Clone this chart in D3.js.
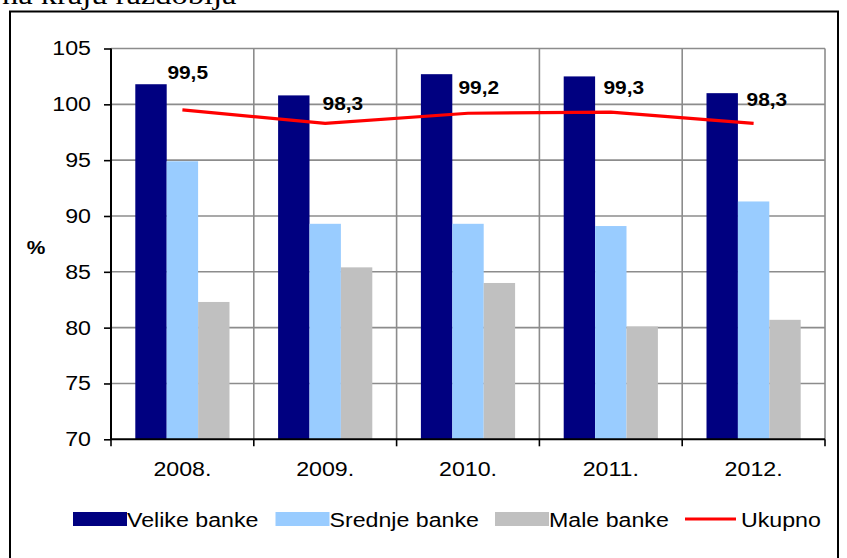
<!DOCTYPE html>
<html><head><meta charset="utf-8">
<script src="https://cdn.jsdelivr.net/npm/d3@7/dist/d3.min.js"></script>
<style>
html,body{margin:0;padding:0;background:#fff;}
svg{display:block;}
text{font-family:"Liberation Sans",Arial,sans-serif;}
</style></head>
<body>
<svg id="c" width="847" height="558"></svg>
<script>
// ---- data ----
const years = ["2008.", "2009.", "2010.", "2011.", "2012."];
const seriesNames = ["Velike banke", "Srednje banke", "Male banke"];
const velike = [101.8, 100.8, 102.7, 102.5, 101.0];
const srednje = [94.9, 89.3, 89.3, 89.1, 91.3];
const male = [82.3, 85.4, 84.0, 80.1, 80.7];
const ukupno = [99.5, 98.3, 99.2, 99.3, 98.3];
const ukupnoLabels = ["99,5", "98,3", "99,2", "99,3", "98,3"];
const lineName = "Ukupno";
const yTicks = [70, 75, 80, 85, 90, 95, 100, 105];
const yLabel = "%";
const titleFragment = "na kraju razdoblja";

// ---- layout ----
const colors = ["#000080", "#99CCFF", "#C0C0C0"];
const SX = 1.16; // horizontal text stretch of the original
const svg = d3.select("#c");
const plotL = 111, plotR = 825, plotT = 48.5, plotB = 439.3;

function stext(g, x, y, str, opts) {
  const t = g.append("g").attr("transform", `translate(${x},${y}) scale(${SX},1)`)
    .append("text").text(str)
    .attr("font-size", opts.size || 20)
    .attr("font-weight", opts.weight || "normal")
    .attr("text-anchor", opts.anchor || "start")
    .attr("fill", opts.fill || "#000");
  if (opts.family) t.style("font-family", opts.family);
  if (opts.baseline) t.attr("dominant-baseline", opts.baseline);
  return t;
}

// title fragment (cut off at top)
stext(svg, 2, 4, titleFragment, {size: 28, family: '"Liberation Serif","Times New Roman",serif'});

// outer frame
svg.append("rect").attr("x", 10).attr("y", 11.5).attr("width", 828).attr("height", 600)
  .attr("fill", "none").attr("stroke", "#000").attr("stroke-width", 2);

const x = d3.scaleBand().domain(years).range([plotL, plotR]).padding(0);
const xs = d3.scaleBand().domain(seriesNames).range([0, x.bandwidth()]).paddingInner(0).paddingOuter(0.774);
const y = d3.scaleLinear().domain([70, 105]).range([plotB, plotT]);

// gridlines
const grid = svg.append("g");
grid.selectAll("line.h").data(yTicks.filter(d => d > 70)).join("line")
  .attr("x1", plotL).attr("x2", plotR).attr("y1", d => y(d)).attr("y2", d => y(d))
  .attr("stroke", "#8c8c8c").attr("stroke-width", 1.6);
const bounds = years.map(d => x(d) + x.bandwidth()).concat([]);
grid.selectAll("line.v").data(bounds).join("line")
  .attr("x1", d => d).attr("x2", d => d).attr("y1", plotT).attr("y2", plotB)
  .attr("stroke", "#8c8c8c").attr("stroke-width", 1.6);

// bars
const seriesVals = [velike, srednje, male];
seriesVals.forEach((vals, si) => {
  svg.append("g").selectAll("rect").data(vals).join("rect")
    .attr("x", (d, i) => x(years[i]) + xs(seriesNames[si]))
    .attr("width", xs.bandwidth())
    .attr("y", d => y(d))
    .attr("height", d => y(70) - y(d))
    .attr("fill", colors[si]);
});

// axes
const yAxis = svg.append("g").attr("transform", `translate(${plotL},0)`)
  .call(d3.axisLeft(y).tickValues(yTicks).tickSize(7).tickFormat(""));
yAxis.select(".domain").attr("stroke", "#000").attr("stroke-width", 2).attr("d", `M0,${plotT}V${plotB}`);
yAxis.selectAll(".tick line").attr("stroke", "#000").attr("stroke-width", 1.6);
yTicks.forEach(t => stext(svg, plotL - 20, y(t), String(t), {size: 20, anchor: "end", baseline: "central"}));

const xAxis = svg.append("g").attr("transform", `translate(0,${plotB})`);
xAxis.append("line").attr("x1", plotL).attr("x2", plotR).attr("stroke", "#000").attr("stroke-width", 2);
xAxis.selectAll("line.t").data([plotL].concat(bounds)).join("line")
  .attr("x1", d => d).attr("x2", d => d).attr("y1", 0).attr("y2", 7)
  .attr("stroke", "#000").attr("stroke-width", 1.6);
years.forEach(yr => stext(svg, x(yr) + x.bandwidth() / 2, 476, yr, {size: 20, anchor: "middle"}));

// y label
stext(svg, 36, 254, yLabel, {size: 18, weight: "bold", anchor: "middle"});

// line
const cx = i => x(years[i]) + x.bandwidth() / 2;
svg.append("path").datum(ukupno)
  .attr("d", d3.line().x((d, i) => cx(i)).y(d => y(d)))
  .attr("fill", "none").attr("stroke", "#FF0000").attr("stroke-width", 3.2);

// data labels (manually placed in the original)
const labelNudge = [[-15, -31], [-2.6, -13.5], [-9.5, -19.5], [-7.3, -18.5], [-7, -17.5]];
ukupno.forEach((v, i) => {
  stext(svg, cx(i) + labelNudge[i][0], y(v) + labelNudge[i][1], ukupnoLabels[i], {size: 18, weight: "bold"});
});

// legend
const legY = 519;
const legItems = [
  {name: seriesNames[0], type: "rect", c: colors[0], x: 73},
  {name: seriesNames[1], type: "rect", c: colors[1], x: 275.5},
  {name: seriesNames[2], type: "rect", c: colors[2], x: 495},
  {name: lineName, type: "line", c: "#FF0000", x: 685}
];
legItems.forEach(it => {
  if (it.type === "rect") {
    svg.append("rect").attr("x", it.x).attr("y", legY - 7).attr("width", 54).attr("height", 14).attr("fill", it.c);
    stext(svg, it.x + 54, legY + 7.5, it.name, {size: 20});
  } else {
    svg.append("line").attr("x1", it.x).attr("x2", it.x + 51).attr("y1", legY).attr("y2", legY)
      .attr("stroke", it.c).attr("stroke-width", 3.2);
    stext(svg, it.x + 56, legY + 7.5, it.name, {size: 20});
  }
});
</script>
</body></html>
